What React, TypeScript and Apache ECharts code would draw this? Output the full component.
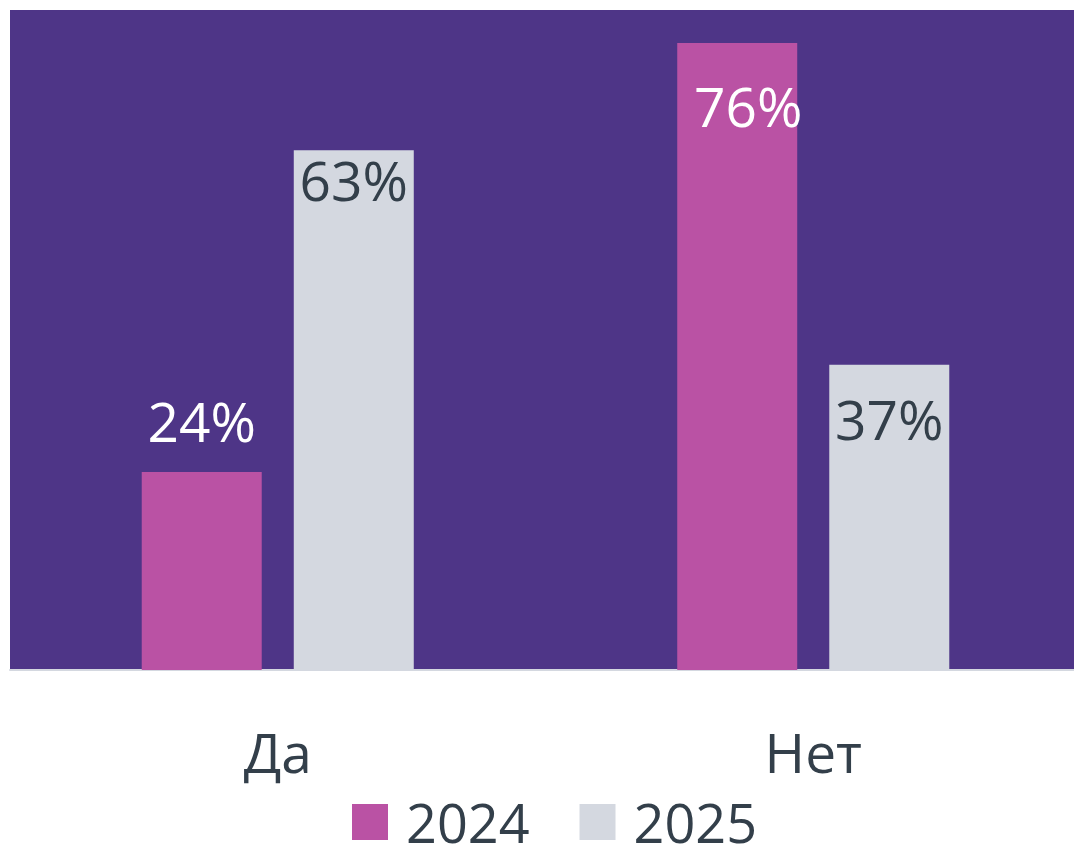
import React, { useEffect, useRef } from "react";
import * as echarts from "echarts";

const categories = ["Да", "Нет"];
const seriesNames = ["2024", "2025"];
const values2024 = [24, 76];
const values2025 = [63, 37];

const PURPLE = "#4E3587";
const PINK = "#BA52A4";
const GREY = "#D4D8E0";
const DARK = "#333F4A";
const FONT = "Open Sans";

export default function App() {
  const ref = useRef<HTMLDivElement>(null);
  useEffect(() => {
    if (!ref.current) return;
    const chart = echarts.init(ref.current, null, { renderer: "svg" });
    const labelBase = {
      show: true,
      fontFamily: FONT,
      fontSize: 55,
      formatter: (p: any) => p.value + "%",
    };
    chart.setOption({
      animation: false,
      backgroundColor: "#ffffff",
      textStyle: { fontFamily: FONT },
      grid: {
        left: 10,
        top: 10,
        right: 0,
        height: 660,
        show: true,
        backgroundColor: PURPLE,
        borderWidth: 0,
        containLabel: false,
      },
      xAxis: {
        type: "category",
        data: categories,
        axisLine: { show: true, lineStyle: { color: GREY, width: 2 } },
        axisTick: { show: false },
        axisLabel: {
          fontFamily: FONT,
          fontSize: 55,
          color: DARK,
          margin: 54,
        },
      },
      yAxis: {
        type: "value",
        min: 0,
        max: 80,
        show: false,
        splitLine: { show: false },
      },
      legend: {
        left: 347,
        top: 790,
        icon: "rect",
        itemWidth: 36,
        itemHeight: 36,
        itemGap: 50,
        data: seriesNames,
        textStyle: {
          fontFamily: FONT,
          fontSize: 54,
          lineHeight: 40,
          color: DARK,
          padding: [0, 0, 0, 13],
        },
      },
      series: [
        {
          name: seriesNames[0],
          type: "bar",
          barWidth: 120,
          barGap: "26.7%",
          itemStyle: { color: PINK },
          data: [
            {
              value: values2024[0],
              label: { ...labelBase, position: "top", distance: 24, color: "#ffffff" },
            },
            {
              value: values2024[1],
              label: { ...labelBase, position: "insideTop", distance: 35, offset: [11, 0], color: "#ffffff" },
            },
          ],
        },
        {
          name: seriesNames[1],
          type: "bar",
          barWidth: 120,
          itemStyle: { color: GREY },
          data: [
            {
              value: values2025[0],
              label: { ...labelBase, position: "insideTop", distance: 2, color: DARK },
            },
            {
              value: values2025[1],
              label: { ...labelBase, position: "insideTop", distance: 26, color: DARK },
            },
          ],
        },
      ],
    });
    return () => chart.dispose();
  }, []);
  return (
    <div
      style={{
        position: "absolute",
        left: 0,
        top: 0,
        width: 1074,
        height: 845,
        overflow: "hidden",
      }}
    >
      <div ref={ref} style={{ width: 1081, height: 845 }} />
    </div>
  );
}
